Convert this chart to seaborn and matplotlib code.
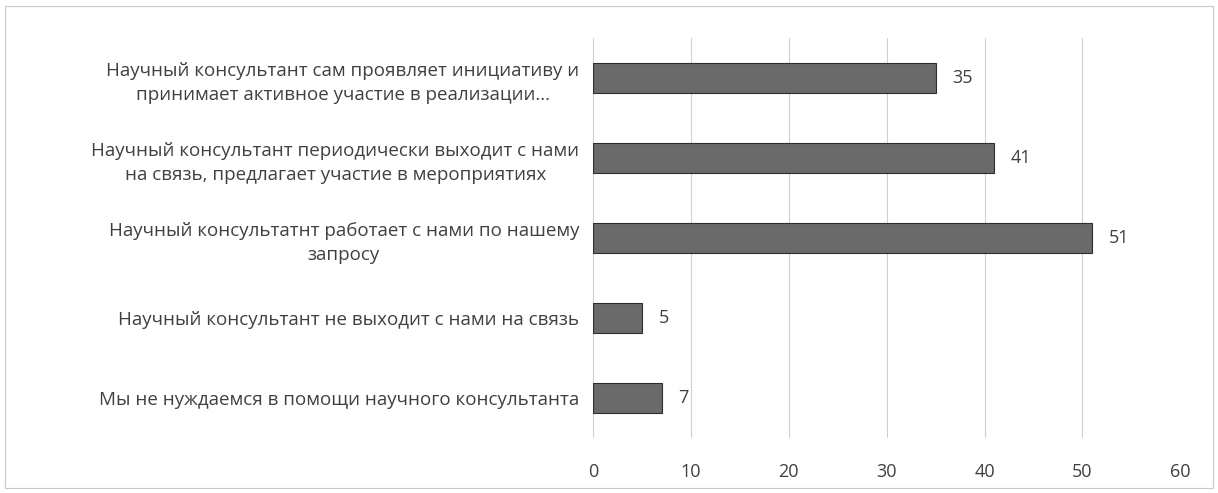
import matplotlib
matplotlib.use("Agg")
import matplotlib.pyplot as plt
import seaborn as sns
import pandas as pd
from matplotlib.patches import Rectangle

categories = [
    "Научный консультант сам проявляет инициативу и\nпринимает активное участие в реализации...",
    "Научный консультант периодически выходит с нами\nна связь, предлагает участие в мероприятиях",
    "Научный консультатнт работает с нами по нашему\nзапросу",
    "Научный консультант не выходит с нами на связь",
    "Мы не нуждаемся в помощи научного консультанта",
]
values = [35, 41, 51, 5, 7]
x_ticks = [0, 10, 20, 30, 40, 50, 60]

sns.set_theme(style="white")
plt.rcParams['font.family'] = ['Open Sans', 'DejaVu Sans']

df = pd.DataFrame({"cat": categories, "val": values})

fig = plt.figure(figsize=(12.18, 4.93), dpi=100)
ax = fig.add_axes([0.487, 0.112, 0.482, 0.811])

sns.barplot(data=df, x="val", y="cat", orient="h", color="#6a6a6a",
            width=0.38, ax=ax, saturation=1, edgecolor="#2e2e2e", linewidth=0.8)

ax.set_xlim(0, 60)
ax.set_xticks(x_ticks)
ax.set_xticklabels([str(t) for t in x_ticks], fontsize=13, color="#404040")
ax.set_xlabel("")
ax.set_ylabel("")
ax.tick_params(axis="x", length=0, pad=18)
ax.tick_params(axis="y", length=0, pad=10)
for lab in ax.get_yticklabels():
    lab.set_fontsize(13.5)
    lab.set_color("#404040")
    lab.set_multialignment("center")
    lab.set_linespacing(1.45)
ax.xaxis.grid(True, color="#d0d0d0", linewidth=0.8)
ax.set_axisbelow(True)
for s in ax.spines.values():
    s.set_visible(False)

for c in ax.containers:
    ax.bar_label(c, labels=[str(v) for v in values], padding=12,
                 fontsize=13, color="#404040")

fig.patches.append(Rectangle((0.004, 0.01), 0.992, 0.978, transform=fig.transFigure,
                             fill=False, edgecolor="#c8c8c8", linewidth=0.8))

fig.savefig("out.png", dpi=100)
